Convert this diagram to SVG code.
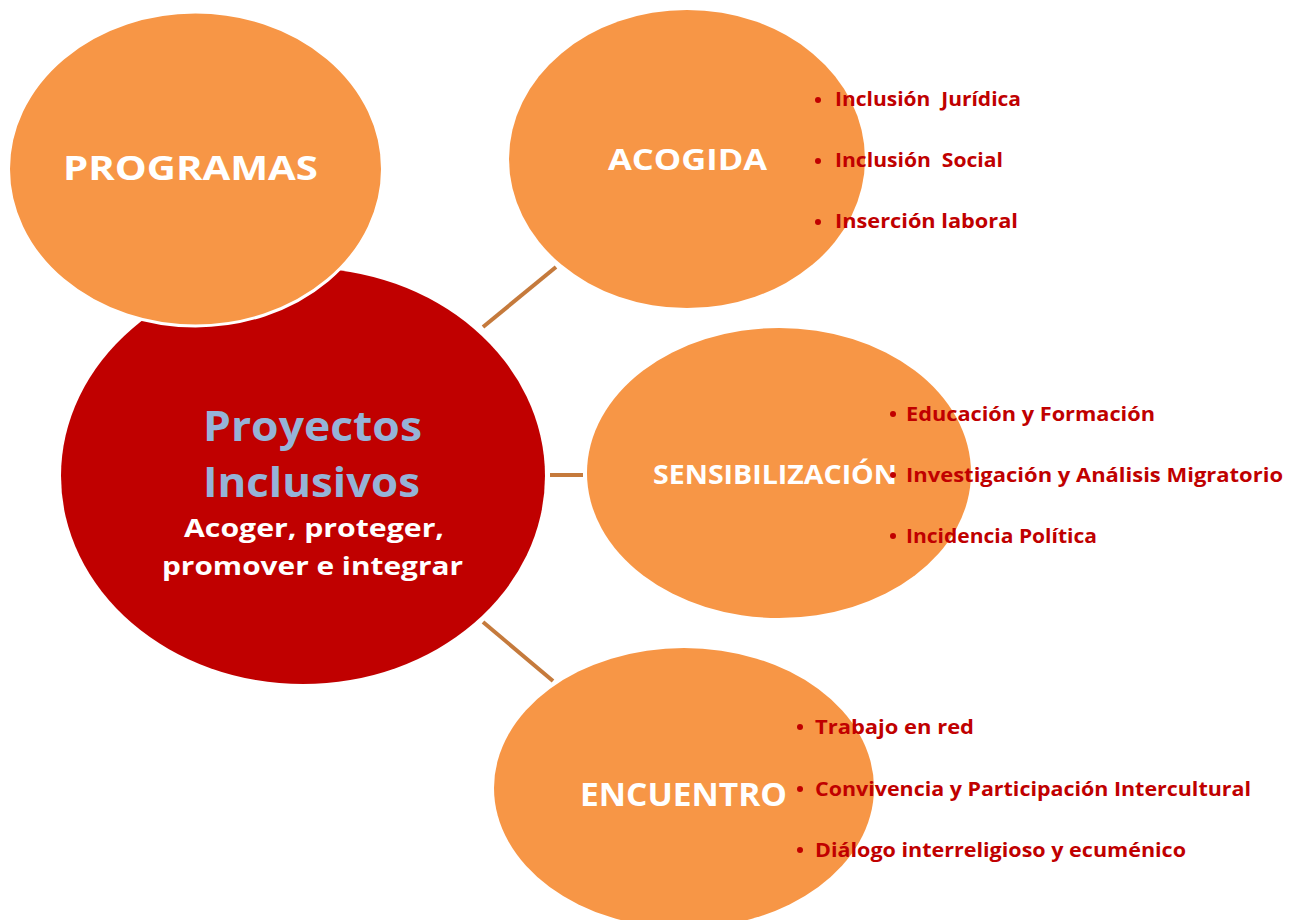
<svg xmlns="http://www.w3.org/2000/svg" width="1289" height="920" viewBox="0 0 1289 920">
<style>
.orange{fill:#F79646}
.red{fill:#C00000}
.title{font-family:"Open Sans","Liberation Sans",sans-serif;font-weight:bold;fill:#FFFFFF}
.item{font-family:"Open Sans","Liberation Sans",sans-serif;font-weight:bold;font-size:19px;fill:#C00000}
.pre{white-space:pre}
.dot{fill:#C00000}
.conn{stroke:#C57A3C;stroke-width:4;fill:none}
</style>
<rect width="1289" height="920" fill="#FFFFFF"/>
<g id="connectors">
<line class="conn" x1="483" y1="327" x2="556" y2="267"/>
<line class="conn" x1="550" y1="475" x2="583" y2="475"/>
<line class="conn" x1="483" y1="622" x2="553" y2="681"/>
</g>
<g id="proyectos">
<ellipse class="red" cx="303" cy="476" rx="242" ry="208"/>
<text x="203" y="441" font-family="Open Sans, Liberation Sans, sans-serif" font-weight="bold" font-size="42" fill="#95B3D7" textLength="219" lengthAdjust="spacingAndGlyphs">Proyectos</text>
<text x="203" y="497" font-family="Open Sans, Liberation Sans, sans-serif" font-weight="bold" font-size="42" fill="#95B3D7" textLength="217" lengthAdjust="spacingAndGlyphs">Inclusivos</text>
<text class="title" x="184" y="537" font-size="25" textLength="260" lengthAdjust="spacingAndGlyphs">Acoger, proteger,</text>
<text class="title" x="162" y="575" font-size="25" textLength="301" lengthAdjust="spacingAndGlyphs">promover e integrar</text>
</g>
<g id="programas">
<ellipse class="orange" cx="195.5" cy="169" rx="187" ry="157" stroke="#FFFFFF" stroke-width="3"/>
<text class="title" x="63" y="180" font-size="34" textLength="255" lengthAdjust="spacingAndGlyphs">PROGRAMAS</text>
</g>
<g id="acogida">
<ellipse class="orange" cx="687" cy="159" rx="178" ry="149"/>
<text class="title" x="608" y="170" font-size="29" textLength="159" lengthAdjust="spacingAndGlyphs">ACOGIDA</text>
<circle class="dot" cx="818" cy="100" r="3"/>
<text class="item pre" x="835" y="106" textLength="186" lengthAdjust="spacingAndGlyphs">Inclusión  Jurídica</text>
<circle class="dot" cx="818" cy="161" r="3"/>
<text class="item pre" x="835" y="167" textLength="168" lengthAdjust="spacingAndGlyphs">Inclusión  Social</text>
<circle class="dot" cx="818" cy="222" r="3"/>
<text class="item" x="835" y="228" textLength="183" lengthAdjust="spacingAndGlyphs">Inserción laboral</text>
</g>
<g id="sensibilizacion">
<ellipse class="orange" cx="779" cy="473" rx="192" ry="145"/>
<text class="title" x="653" y="484" font-size="27" textLength="244" lengthAdjust="spacingAndGlyphs">SENSIBILIZACIÓN</text>
<circle class="dot" cx="893" cy="414" r="3"/>
<text class="item" x="906" y="421" textLength="249" lengthAdjust="spacingAndGlyphs">Educación y Formación</text>
<circle class="dot" cx="893" cy="475" r="3"/>
<text class="item" x="906" y="482" textLength="377" lengthAdjust="spacingAndGlyphs">Investigación y Análisis Migratorio</text>
<circle class="dot" cx="893" cy="536" r="3"/>
<text class="item" x="906" y="543" textLength="191" lengthAdjust="spacingAndGlyphs">Incidencia Política</text>
</g>
<g id="encuentro">
<ellipse class="orange" cx="684" cy="788" rx="190" ry="140"/>
<text class="title" x="580" y="806" font-size="32" textLength="207" lengthAdjust="spacingAndGlyphs">ENCUENTRO</text>
<circle class="dot" cx="800" cy="727" r="3"/>
<text class="item" x="815" y="734" textLength="159" lengthAdjust="spacingAndGlyphs">Trabajo en red</text>
<circle class="dot" cx="800" cy="789" r="3"/>
<text class="item" x="815" y="796" textLength="436" lengthAdjust="spacingAndGlyphs">Convivencia y Participación Intercultural</text>
<circle class="dot" cx="800" cy="850" r="3"/>
<text class="item" x="815" y="857" textLength="371" lengthAdjust="spacingAndGlyphs">Diálogo interreligioso y ecuménico</text>
</g>
</svg>
